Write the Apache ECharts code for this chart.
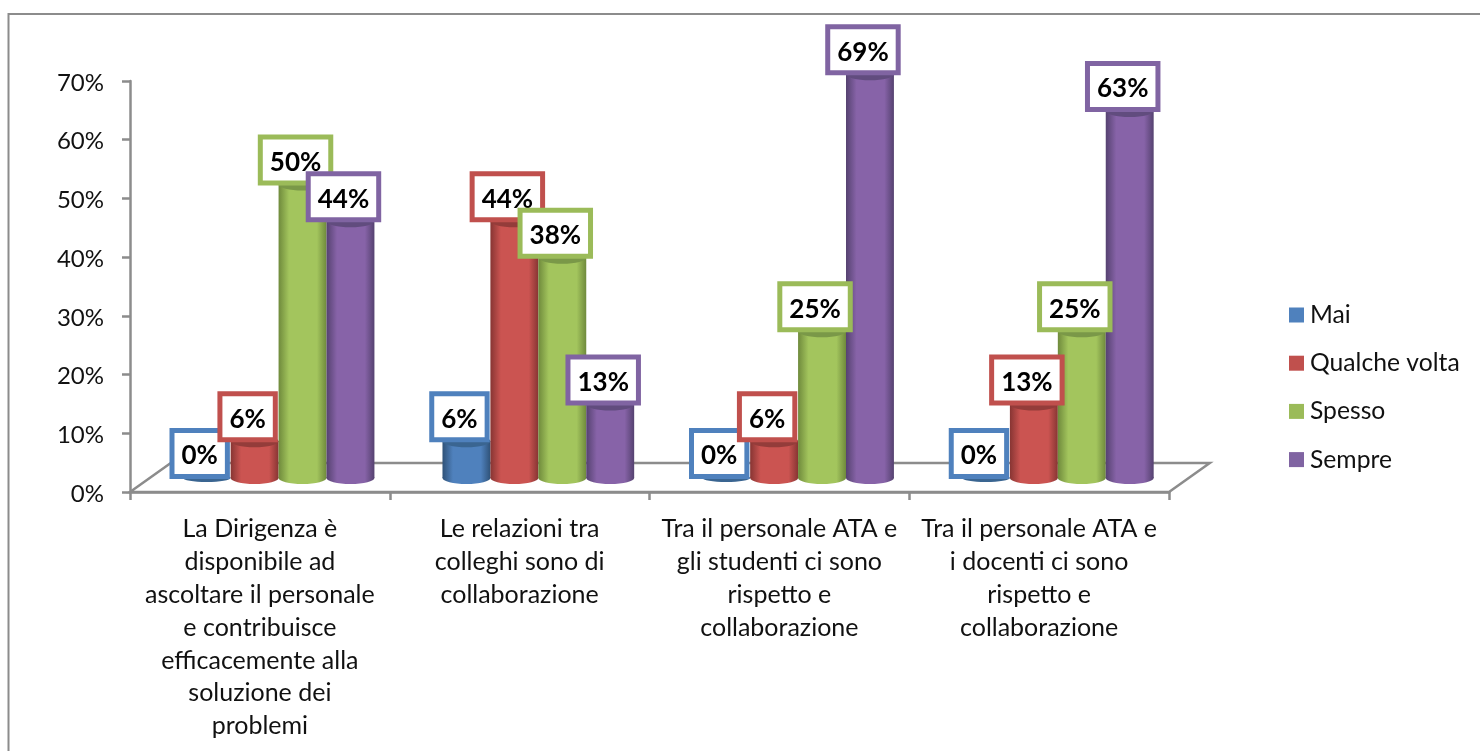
<!DOCTYPE html>
<html><head><meta charset="utf-8">
<style>html,body{margin:0;padding:0;background:#fff}#c{width:1480px;height:751px}</style>
<script src="https://cdn.jsdelivr.net/npm/echarts@6/dist/echarts.min.js"></script>
</head><body><div id="c"></div>
<script>
const categories = [
  "La Dirigenza è\ndisponibile ad\nascoltare il personale\ne contribuisce\nefficacemente alla\nsoluzione dei\nproblemi",
  "Le relazioni tra\ncolleghi sono di\ncollaborazione",
  "Tra il personale ATA e\ngli studenti ci sono\nrispetto e\ncollaborazione",
  "Tra il personale ATA e\ni docenti ci sono\nrispetto e\ncollaborazione"
];
const mai = [0, 6.25, 0, 0];
const qualcheVolta = [6.25, 43.75, 6.25, 12.5];
const spesso = [50, 37.5, 25, 25];
const sempre = [43.75, 12.5, 68.75, 62.5];

const FONT = 'Lato, "Open Sans", sans-serif';
const AXIS = '#8c8c8c';
const palette = [
  {name:'Mai', values:mai, color:'#4F81BD', dark:'#2f5278', mid:'#4f81bd', top:'#3a6591'},
  {name:'Qualche volta', values:qualcheVolta, color:'#C0504D', dark:'#873533', mid:'#cb5451', top:'#943c3a'},
  {name:'Spesso', values:spesso, color:'#9BBB59', dark:'#6f8a3c', mid:'#a3c55d', top:'#7a9848'},
  {name:'Sempre', values:sempre, color:'#8064A2', dark:'#554270', mid:'#8763a8', top:'#614c7e'}
];

function barRender(si, p){
  return function(params, api){
    const cat = api.value(0), val = api.value(1);
    const pt = api.coord([cat, val]);
    const zero = api.coord([cat, 0]);
    const band = api.size([1, 0])[0];
    const w = band * 0.1845, rx = w / 2, ry = 6;
    const lift = 14, shift = band * 0.072;
    const cx = pt[0] + (si - 1.5) * w + shift;
    const yBase = zero[1] - lift, yTop = pt[1] - lift;
    const grad = {type:'linear',x:0,y:0,x2:1,y2:0,colorStops:[
      {offset:0,color:p.dark},{offset:0.22,color:p.mid},{offset:0.55,color:p.mid},
      {offset:0.8,color:p.mid},{offset:1,color:p.dark}]};
    const kids = [];
    if (val > 0) {
      kids.push({type:'ellipse',shape:{cx:cx,cy:yBase,rx:rx,ry:ry},style:{fill:grad}});
      kids.push({type:'rect',shape:{x:cx-rx,y:yTop,width:w,height:yBase-yTop},style:{fill:grad}});
    }
    kids.push({type:'ellipse',shape:{cx:cx,cy:yTop,rx:rx,ry:val>0?ry:4},style:{fill:p.top}});
    kids.push({type:'text',z2:100+si,x:cx-7,y:yTop-4,style:{
      text:Math.round(val)+'%',font:'bold 26px '+FONT,fill:'#000',align:'center',verticalAlign:'bottom',
      backgroundColor:'#fff',borderColor:p.color,borderWidth:5,borderRadius:0,padding:[10,7,5,7]}});
    return {type:'group',children:kids};
  };
}

const floorSeries = {
  type:'custom',name:'floor',silent:true,z:1,data:[[0,0]],
  renderItem:function(params, api){
    const c = params.coordSys;
    const x0=c.x, x1=c.x+c.width, y=c.y+c.height, dx=api.size([1,0])[0]*0.157, dy=29;
    return {type:'polygon',shape:{points:[[x0,y],[x0+dx,y-dy],[x1+dx,y-dy],[x1,y]]},
      style:{fill:'#fff',stroke:AXIS,lineWidth:2.5}};
  }
};

const barSeries = palette.map((p,si)=>({
  type:'custom',name:p.name,z:2,itemStyle:{color:p.color},
  data:p.values.map((v,i)=>[i,v]),encode:{x:0,y:1},
  renderItem:barRender(si,p)
}));

const chart = echarts.init(document.getElementById('c'),null,{renderer:'canvas'});
chart.setOption({
  animation:false,
  backgroundColor:'#fff',
  textStyle:{fontFamily:FONT},
  graphic:[{type:'polyline',silent:true,shape:{points:[[8.5,751],[8.5,14],[1480,14]]},
    style:{fill:'none',stroke:AXIS,lineWidth:2}}],
  grid:{left:130,top:81,width:1039,height:411,containLabel:false},
  legend:{orient:'vertical',left:1289,top:301,padding:0,itemWidth:15,itemHeight:15,itemGap:20.2,icon:'rect',
    data:palette.map(p=>p.name),selectedMode:false,itemStyle:{borderWidth:0},
    textStyle:{fontFamily:FONT,fontSize:24.7,color:'#111',lineHeight:28,padding:[0,0,0,1]}},
  xAxis:{type:'category',data:categories,boundaryGap:true,z:3,
    axisLine:{show:true,lineStyle:{color:AXIS,width:2.5}},
    axisTick:{show:true,alignWithLabel:false,length:8,lineStyle:{color:AXIS,width:2.5}},
    axisLabel:{interval:0,fontFamily:FONT,fontSize:25,color:'#111',lineHeight:32.8,margin:21,align:'center'}},
  yAxis:{type:'value',min:0,max:70,interval:10,
    axisLine:{show:true,lineStyle:{color:AXIS,width:2.5}},
    axisTick:{show:true,length:8,lineStyle:{color:AXIS,width:2.5}},
    splitLine:{show:false},
    axisLabel:{formatter:'{value}%',fontFamily:FONT,fontSize:24,color:'#111',margin:26,verticalAlign:'top',lineHeight:4}},
  series:[floorSeries].concat(barSeries)
});
</script></body></html>
